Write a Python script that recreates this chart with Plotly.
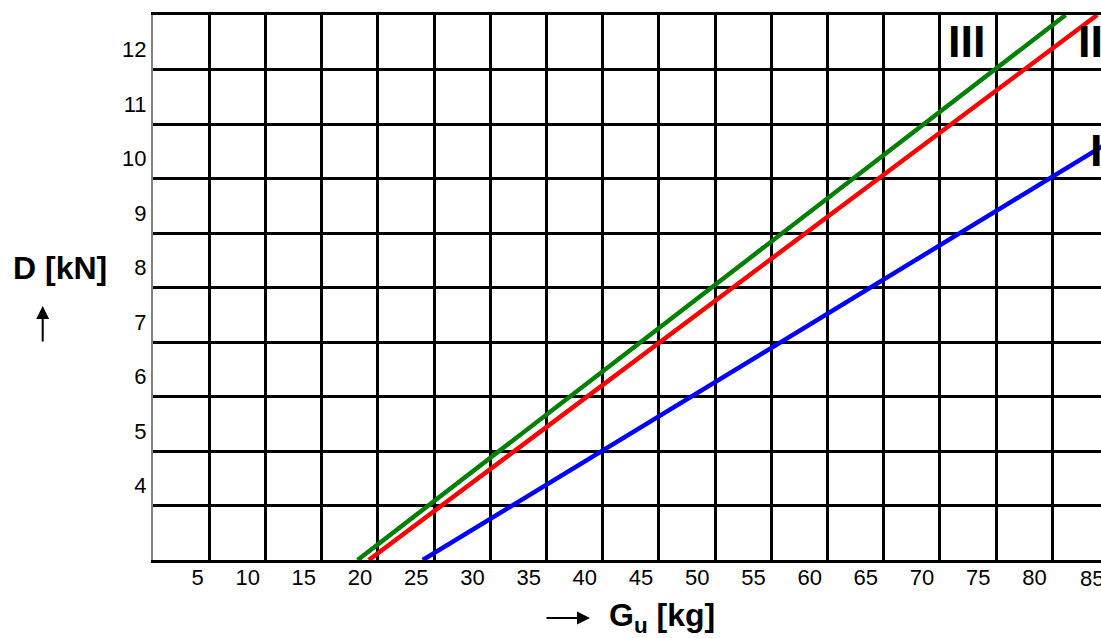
import plotly.graph_objects as go

# ---- data (x: G_u in kg, y: D in kN) ----
green_x = [18.2, 81.2]
green_d = [3.0, 13.0]
red_x = [19.2, 84.0]
red_d = [3.0, 13.0]
blue_x = [24.0, 85.5]
blue_d = [3.0, 10.72]

x_tick_vals = [5, 10, 15, 20, 25, 30, 35, 40, 45, 50, 55, 60, 65, 70, 75, 80]
x_tick_text = ["5", "10", "15", "20", "25", "30", "35", "40", "45", "50", "55",
               "60", "65", "70", "75", "80"]
x_last_tick = 85
x_last_text = "85"
y_tick_vals = [4, 5, 6, 7, 8, 9, 10, 11, 12]
y_tick_text = ["4", "5", "6", "7", "8", "9", "10", "11", "12"]

curve_labels = ["I", "II", "III"]
curve_label_x = [83.9, 83.4, 72.4]
curve_label_d = [10.52, 12.52, 12.52]

# ---- layout geometry ----
W, H = 1101, 638
ML, MT, MB, MR = 153, 15, 78, 0
PX_PER_KG = 11.24
PW = W - ML - MR
PH = H - MT - MB
X_MAX = PW / PX_PER_KG
Y_MIN, Y_MAX = 3, 13

FONT = "Liberation Sans, Arial, sans-serif"
TICK_SIZE = 22


def px_x(p):
    """pixel -> paper x"""
    return (p - ML) / PW


def px_y(p):
    """pixel -> paper y"""
    return (H - MB - p) / PH


fig = go.Figure()
for xs, ds, col in [(blue_x, blue_d, "#0000ff"), (red_x, red_d, "#ff0000"),
                    (green_x, green_d, "#008000")]:
    fig.add_trace(go.Scatter(x=xs, y=ds, mode="lines",
                             line=dict(color=col, width=4.5),
                             showlegend=False, hoverinfo="skip"))

annotations = []
for t, lx, ld in zip(curve_labels, curve_label_x, curve_label_d):
    annotations.append(dict(x=lx, y=ld, xref="x", yref="y", text=t,
                            showarrow=False, xanchor="center", yanchor="middle",
                            font=dict(family=FONT, size=45, color="black",
                                      weight="bold")))

# last x tick label: its gridline lies just beyond the right edge
annotations.append(dict(x=x_last_tick / X_MAX, y=0, xref="paper", yref="paper",
                        text=x_last_text, showarrow=False, xanchor="right",
                        yanchor="top", xshift=-2, yshift=-4,
                        font=dict(family=FONT, size=TICK_SIZE, color="black")))

# axis titles
annotations.append(dict(x=px_x(59.5), y=px_y(268), xref="paper", yref="paper",
                        text="D [kN]", showarrow=False, xanchor="center",
                        yanchor="middle",
                        font=dict(family=FONT, size=32, color="black",
                                  weight="bold")))
annotations.append(dict(x=px_x(42.7), y=px_y(306), xref="paper", yref="paper",
                        text="", showarrow=True, ax=0, ay=37, arrowhead=2,
                        arrowsize=1.3, arrowwidth=2, arrowcolor="black"))
annotations.append(dict(x=px_x(607), y=px_y(617), xref="paper", yref="paper",
                        text="G<sub>u</sub> [kg]", showarrow=False,
                        xanchor="left", yanchor="middle",
                        font=dict(family=FONT, size=32, color="black",
                                  weight="bold")))
annotations.append(dict(x=px_x(590), y=px_y(618), xref="paper", yref="paper",
                        text="", showarrow=True, ax=-45, ay=0, arrowhead=2,
                        arrowsize=1.3, arrowwidth=2, arrowcolor="black"))

fig.update_layout(
    width=W, height=H,
    margin=dict(l=ML, r=MR, t=MT, b=MB, pad=0),
    paper_bgcolor="white", plot_bgcolor="white",
    font=dict(family=FONT, color="black"),
    annotations=annotations,
    xaxis=dict(range=[0, X_MAX], tickvals=x_tick_vals, ticktext=x_tick_text,
               showgrid=True, gridcolor="black", gridwidth=3,
               showline=True, linecolor="black", linewidth=3, mirror=True,
               zeroline=False, ticks="", ticklabelposition="outside left",
               ticklabelshift=-4, ticklabelstandoff=-4,
               tickfont=dict(family=FONT, size=TICK_SIZE)),
    yaxis=dict(range=[Y_MIN, Y_MAX], tickvals=y_tick_vals, ticktext=y_tick_text,
               showgrid=True, gridcolor="black", gridwidth=3,
               showline=True, linecolor="#808080", linewidth=2,
               zeroline=False, ticks="", ticklabelshift=-20,
               tickfont=dict(family=FONT, size=TICK_SIZE)),
)

fig.write_html(
    "out.html",
    config={"displayModeBar": False},
    post_script="document.body.style.margin='0';"
                "document.body.style.overflow='hidden';",
)
